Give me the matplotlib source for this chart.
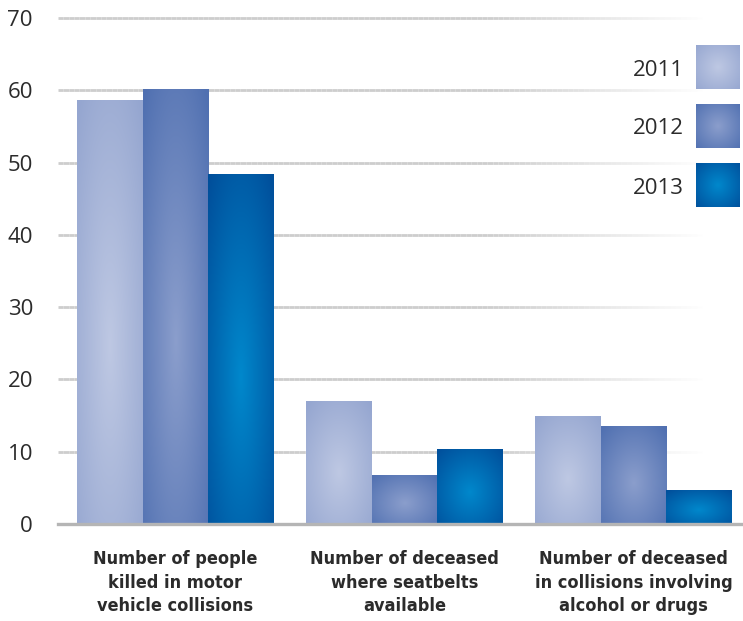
import numpy as np
import matplotlib
matplotlib.use('Agg')
import matplotlib.pyplot as plt
from matplotlib.colors import to_rgb
from matplotlib.collections import LineCollection

categories = ['Number of people\nkilled in motor\nvehicle collisions',
              'Number of deceased\nwhere seatbelts\navailable',
              'Number of deceased\nin collisions involving\nalcohol or drugs']
years = ['2011', '2012', '2013']
v2011 = [58.6, 17.0, 14.9]
v2012 = [60.2, 6.8, 13.5]
v2013 = [48.4, 10.4, 4.7]
yticks = [0, 10, 20, 30, 40, 50, 60, 70]

edge_colors = ['#95a6d0', '#5070b1', '#004f9b']
center_colors = ['#bec8e3', '#8b9ecc', '#0088cc']


def radial(edge, center, cy=0.58, n=200):
    yy, xx = np.mgrid[0:1:n * 1j, 0:1:n * 1j]
    r = np.sqrt(((xx - 0.5) / 0.72) ** 2 + ((yy - cy) / 0.75) ** 2)
    t = np.clip(r, 0, 1)[..., None]
    e = np.array(to_rgb(edge))
    c = np.array(to_rgb(center))
    return c * (1 - t) + e * t


fig = plt.figure(figsize=(7.43, 6.21), dpi=100)
ax = fig.add_axes([58 / 743, 97 / 621, 685 / 743, 506 / 621])

x = np.arange(len(categories))
w = 0.286
series = [v2011, v2012, v2013]
for i, vals in enumerate(series):
    bars = ax.bar(x + (i - 1) * w, vals, w, color=edge_colors[i], lw=0, zorder=2)
    img = radial(edge_colors[i], center_colors[i])
    for b in bars:
        x0, y0 = b.get_x(), b.get_y()
        im = ax.imshow(img, extent=(x0, x0 + b.get_width(), y0, y0 + b.get_height()),
                       aspect='auto', origin='upper', zorder=3, interpolation='bilinear')
        im.set_clip_path(b)

# fading grid lines
n = 120
xs = np.linspace(0, 0.94, n + 1)
gray = np.array(to_rgb('#cdcdcd'))
for yv in yticks[1:]:
    segs = [[(xs[k], yv), (xs[k + 1], yv)] for k in range(n)]
    alphas = np.clip((0.94 - xs[:-1]) / 0.32, 0, 1)
    cols = [(*gray, a) for a in alphas]
    lc = LineCollection(segs, colors=cols, linewidths=2, transform=ax.get_yaxis_transform(),
                        zorder=1, clip_on=False)
    ax.add_collection(lc)
ax.axhline(0, color='#b5b5b5', lw=2.4, zorder=5, clip_on=False)

ax.set_xlim(-0.513, 2.478)
ax.set_ylim(0, 70)
ax.set_yticks(yticks)
ax.set_yticklabels([str(t) for t in yticks], fontfamily='Open Sans', fontsize=16, color='#2b2b2b')
ax.set_xticks(x)
ax.set_xticklabels(categories, fontfamily='DejaVu Sans', fontstretch='condensed',
                   fontweight='bold', fontsize=13, color='#2b2b2b', linespacing=1.38)
ax.tick_params(axis='y', length=0, pad=18)
ax.tick_params(axis='x', length=0, pad=19)
for s in ax.spines.values():
    s.set_visible(False)

# legend
for i, yr in enumerate(years):
    cy = 67 + i * 59
    fig.text(684 / 743, 1 - (cy + 3) / 621, yr, ha='right', va='center', fontsize=16,
             fontfamily='Open Sans', color='#2b2b2b')
    sw = fig.add_axes([696 / 743, 1 - (cy + 22) / 621, 44 / 743, 44 / 621])
    sw.imshow(radial(edge_colors[i], center_colors[i], cy=0.5), aspect='auto',
              interpolation='bilinear')
    sw.axis('off')

fig.savefig('out.png', dpi=100)
